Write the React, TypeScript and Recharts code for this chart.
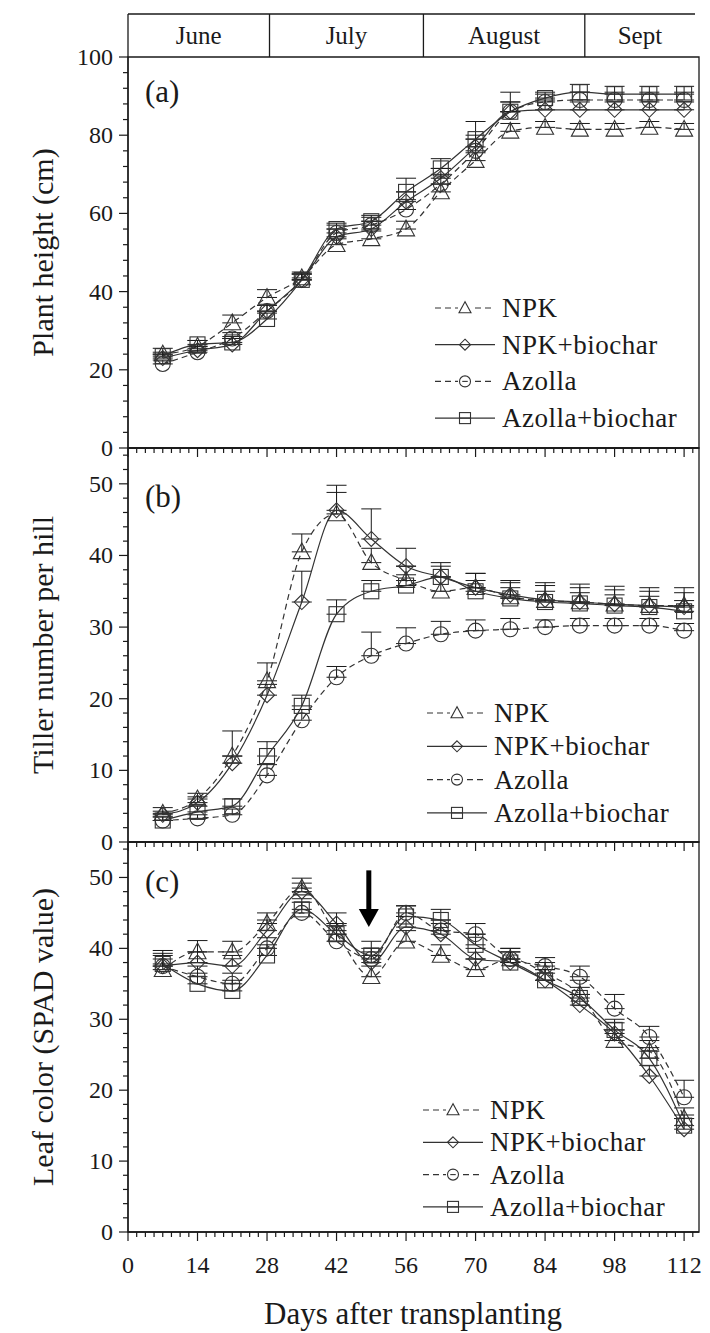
import React from 'react';
import {
  LineChart,
  Line,
  XAxis,
  YAxis,
  ErrorBar,
  ReferenceArea,
  ReferenceLine,
  Legend,
} from 'recharts';

const FONT = '"Liberation Serif", "Times New Roman", Times, serif';
const INK = '#1a1a1a';
const LINE = '#333333';

// sampling days (days after transplanting)
const days = [7, 14, 21, 28, 35, 42, 49, 56, 63, 70, 77, 84, 91, 98, 105, 112];

const seriesNames = ['NPK', 'NPK+biochar', 'Azolla', 'Azolla+biochar'];

// (a) plant height, cm
const heightNPK = [24, 26, 32, 38.5, 43.5, 52, 53.5, 56, 65.5, 73.5, 81, 82, 81.5, 81.5, 82, 81.5];
const heightNPKBiochar = [23, 25, 26.5, 35, 43, 54, 56, 63, 69, 77, 86, 86.5, 86.5, 86.5, 86.5, 86.5];
const heightAzolla = [21.5, 24.5, 28, 35, 43, 55, 57, 61, 67.5, 76, 86, 88.5, 89, 89, 89, 89];
const heightAzollaBiochar = [23.5, 26.5, 27, 33, 43, 56, 58, 65.5, 71.5, 79, 86, 89.5, 91, 90.5, 90.5, 90.5];
const heightNPKErr = [1.5, 1.5, 2, 2, 1.5, 1.5, 2, 2, 2, 2, 2, 1.5, 1.5, 1.5, 1.5, 1.5];
const heightNPKBiocharErr = [1, 1, 1.5, 1.5, 1.5, 2, 2, 2.5, 2.5, 3, 5, 2.5, 2, 2, 2, 2];
const heightAzollaErr = [1, 1, 1.5, 1.5, 1.5, 2, 2, 2.5, 2.5, 3, 2.5, 2, 2, 2, 2, 2];
const heightAzollaBiocharErr = [1, 1, 1.5, 1.5, 1.5, 1.5, 1.5, 3.5, 2.5, 4.5, 2.5, 1.5, 2, 2, 2, 2];

// (b) tiller number per hill
const tillerNPK = [4, 6, 12, 22.5, 40.5, 45.8, 39, 36.5, 35, 35.5, 34.2, 33.7, 33.5, 33.2, 33, 33];
const tillerNPKBiochar = [3.8, 5.5, 11, 20.5, 33.5, 46.3, 42.3, 38.5, 37, 35.5, 34.5, 33.8, 33.5, 33.2, 33, 32.8];
const tillerAzolla = [3, 3.3, 3.8, 9.3, 17, 23, 26, 27.7, 29, 29.5, 29.7, 30, 30.2, 30.2, 30.2, 29.5];
const tillerAzollaBiochar = [3, 4.2, 5, 12, 19, 31.8, 35, 35.8, 37, 35, 34, 33.5, 33.3, 33, 32.8, 32.2];
const tillerNPKErr = [0.8, 0.8, 3.5, 2.5, 2.5, 4, 2, 2, 2, 2, 2, 2.5, 2.5, 2.5, 2.5, 2.5];
const tillerNPKBiocharErr = [0.5, 0.8, 1, 1.5, 4.3, 2.5, 4.2, 2.5, 2, 2, 2, 2, 2, 2, 2, 2];
const tillerAzollaErr = [0.5, 0.5, 0.8, 1.5, 1.5, 1.5, 3.3, 2.2, 1.8, 1.5, 1.5, 1, 1, 1, 1, 1];
const tillerAzollaBiocharErr = [0.5, 0.8, 1, 2, 1.5, 2, 1.5, 1.5, 1.5, 1.5, 1.5, 1.5, 1.5, 1.5, 1.5, 1.5];

// (c) leaf colour, SPAD value
const spadNPK = [37, 39.5, 39.5, 43.5, 48.5, 42, 36, 41, 39, 37, 38.5, 36.5, 33.5, 27, 25.5, 16];
const spadNPKBiochar = [37.5, 38, 37.5, 42.5, 48, 43.5, 38, 43, 42, 38.5, 38, 35.5, 32, 28, 22, 14.5];
const spadAzolla = [37.5, 36, 35, 40, 45, 41, 38.5, 45, 42.5, 42, 38.5, 37.5, 36, 31.5, 27.5, 19];
const spadAzollaBiochar = [37.8, 35, 34, 39, 45.5, 42, 39, 44.5, 44, 40.5, 38, 35.5, 33, 28.5, 24.5, 15];
const spadNPKErr = [1.5, 1.6, 1.5, 1.5, 1.4, 1.2, 1.5, 1.5, 1.5, 1.5, 1.5, 1.5, 2, 1.5, 1.5, 1.5];
const spadNPKBiocharErr = [2.2, 1.5, 1.5, 1.5, 1.2, 1.5, 1.5, 1.5, 1.5, 1.5, 1.5, 1.5, 1.5, 1.5, 1.5, 1.5];
const spadAzollaErr = [1.5, 1.5, 1.5, 1.5, 1.5, 1.5, 1.5, 1, 1.5, 1.5, 1.5, 1.2, 1.5, 2, 1.5, 2.4];
const spadAzollaBiocharErr = [1.5, 1.5, 1.5, 1.5, 1.5, 1.5, 2, 1.5, 1.5, 1.5, 1.5, 1.5, 1.5, 1.5, 1.5, 1.5];

// month band above panel (a)
const monthNames = ['June', 'July', 'August', 'Sept'];
const monthBounds = [0, 28.5, 59.5, 92, 114.2];

// axis tick labels
const dayTickLabels = [0, 14, 28, 42, 56, 70, 84, 98, 112];
const heightTickLabels = [0, 20, 40, 60, 80, 100];
const countTickLabels = [0, 10, 20, 30, 40, 50];

// topdressing arrow on panel (c)
const arrowDay = 48.5;
const arrowFrom = 51;
const arrowTo = 43;

const DAY_DOMAIN: [number, number] = [0, 115];
const dayMinorTicks = Array.from({ length: 66 }, (_, i) => i * 1.75);
const heightMinorTicks = Array.from({ length: 26 }, (_, i) => i * 4);
const countMinorTicks = Array.from({ length: 28 }, (_, i) => i * 2);

type Kind = 'triangle' | 'diamond' | 'circle' | 'square';
const seriesKeys = ['npk', 'npkb', 'az', 'azb'];
const seriesKinds: Kind[] = ['triangle', 'diamond', 'circle', 'square'];
const seriesDash: (string | undefined)[] = ['6 4', undefined, '6 4', undefined];

function buildRows(values: number[][], errors: number[][]) {
  return days.map((day, i) => {
    const row: Record<string, any> = { day };
    seriesKeys.forEach((k, s) => {
      row[k] = values[s][i];
      row[k + 'Err'] = [0, errors[s][i]];
    });
    return row;
  });
}

const heightRows = buildRows(
  [heightNPK, heightNPKBiochar, heightAzolla, heightAzollaBiochar],
  [heightNPKErr, heightNPKBiocharErr, heightAzollaErr, heightAzollaBiocharErr]
);
const tillerRows = buildRows(
  [tillerNPK, tillerNPKBiochar, tillerAzolla, tillerAzollaBiochar],
  [tillerNPKErr, tillerNPKBiocharErr, tillerAzollaErr, tillerAzollaBiocharErr]
);
const spadRows = buildRows(
  [spadNPK, spadNPKBiochar, spadAzolla, spadAzollaBiochar],
  [spadNPKErr, spadNPKBiocharErr, spadAzollaErr, spadAzollaBiocharErr]
);

function MarkerShape({ cx, cy, kind, s, bar }: { cx: number; cy: number; kind: Kind; s: number; bar?: boolean }) {
  const st = { fill: 'none', stroke: LINE, strokeWidth: 1.1 };
  if (kind === 'triangle') {
    return (
      <polygon
        points={`${cx},${cy - s * 1.05} ${cx - s},${cy + s * 0.8} ${cx + s},${cy + s * 0.8}`}
        {...st}
      />
    );
  }
  if (kind === 'diamond') {
    return <polygon points={`${cx},${cy - s} ${cx + s},${cy} ${cx},${cy + s} ${cx - s},${cy}`} {...st} />;
  }
  if (kind === 'circle') {
    return (
      <g>
        <circle cx={cx} cy={cy} r={s} {...st} />
        {bar && <line x1={cx - s * 0.5} x2={cx + s * 0.5} y1={cy} y2={cy} stroke={LINE} strokeWidth={1.1} />}
      </g>
    );
  }
  return (
    <g>
      <rect x={cx - s} y={cy - s} width={2 * s} height={2 * s} {...st} />
      {bar && <line x1={cx - s} x2={cx + s} y1={cy} y2={cy} stroke={LINE} strokeWidth={1.1} />}
    </g>
  );
}

const dataSize: Record<Kind, number> = { triangle: 8.5, diamond: 7.5, circle: 7.5, square: 7.5 };

function isMultiple(v: number, step: number) {
  return Math.abs(v / step - Math.round(v / step)) < 1e-6;
}

const makeXTick = (withLabels: boolean) => (props: any) => {
  const { x, y, payload } = props;
  const v = Number(payload?.value);
  const major = isMultiple(v, 14);
  const label = withLabels && dayTickLabels.some((t) => Math.abs(t - v) < 1e-6);
  return (
    <g>
      <line x1={x} x2={x} y1={y} y2={y + (major ? 9 : 5)} stroke={INK} strokeWidth={1.2} />
      {label ? (
        <text x={x} y={y + 41} textAnchor="middle" fontFamily={FONT} fontSize={24} fill={INK}>
          {String(v)}
        </text>
      ) : null}
    </g>
  );
};

const makeYTick = (labels: number[]) => (props: any) => {
  const { x, y, payload } = props;
  const v = Number(payload?.value);
  const major = labels.includes(v);
  return (
    <g>
      <line x1={x - (major ? 9 : 5)} x2={x} y1={y} y2={y} stroke={INK} strokeWidth={1.2} />
      {major && (
        <text x={x - 15} y={y + 8} textAnchor="end" fontFamily={FONT} fontSize={24} fill={INK}>
          {v}
        </text>
      )}
    </g>
  );
};

function LegendBox({ gap }: { gap: number }) {
  return (
    <svg width={260} height={gap * 3 + 40} style={{ overflow: 'visible' }}>
      {seriesNames.map((name, i) => {
        const cy = 18 + i * gap;
        return (
          <g key={name}>
            <line
              x1={0}
              x2={60}
              y1={cy}
              y2={cy}
              stroke={LINE}
              strokeWidth={1.2}
              strokeDasharray={seriesDash[i]}
            />
            {seriesDash[i] && <rect x={23} y={cy - 8} width={14} height={16} fill="#fff" />}
            <MarkerShape cx={30} cy={cy} kind={seriesKinds[i]} s={seriesKinds[i] === 'triangle' ? 6 : 5.5} bar />
            <text x={67} y={cy + 9} fontFamily={FONT} fontSize={27} letterSpacing={0.5} fill={INK}>
              {name}
            </text>
          </g>
        );
      })}
    </svg>
  );
}

const ArrowShape = (p: any) => {
  const { x1, y1, x2, y2 } = p;
  const x = (x1 + x2) / 2;
  const top = Math.min(y1, y2);
  const tip = Math.max(y1, y2);
  const head = 18;
  return (
    <g>
      <line x1={x} x2={x} y1={top} y2={tip - head + 1} stroke="#000" strokeWidth={5} />
      <polygon points={`${x - 10},${tip - head} ${x + 10},${tip - head} ${x},${tip}`} fill="#000" />
    </g>
  );
};

type PanelProps = {
  top: number;
  bottom: number;
  rows: Record<string, any>[];
  yMax: number;
  yMinor: number[];
  yLabels: number[];
  yTitle: string;
  tag: string;
  tagY: number;
  legendLeft: number;
  legendTop: number;
  legendGap: number;
  showDays?: boolean;
  arrow?: boolean;
  bandTop?: number;
};

function Panel(props: PanelProps) {
  const {
    top, bottom, rows, yMax, yMinor, yLabels, yTitle, tag, tagY,
    legendLeft, legendTop, legendGap, showDays, arrow, bandTop,
  } = props;
  const H = 1333;
  const midY = (top + bottom) / 2;
  return (
    <div style={{ position: 'absolute', left: 0, top: 0 }}>
      <LineChart width={710} height={H} data={rows} margin={{ top, right: 11, bottom: H - bottom - 1, left: 0 }}>
        <XAxis
          dataKey="day"
          type="number"
          domain={DAY_DOMAIN}
          ticks={dayMinorTicks}
          interval={0}
          height={1}
          tickSize={0}
          tickMargin={0}
          tickLine={false}
          axisLine={{ stroke: INK, strokeWidth: 1.3 }}
          tick={makeXTick(!!showDays)}
        />
        <YAxis
          type="number"
          domain={[0, yMax]}
          ticks={yMinor}
          interval={0}
          width={128}
          tickSize={0}
          tickMargin={0}
          tickLine={false}
          axisLine={{ stroke: INK, strokeWidth: 1.3 }}
          tick={makeYTick(yLabels)}
          label={{
            content: () => (
              <g>
                <text
                  x={42}
                  y={midY}
                  transform={`rotate(-90, 42, ${midY})`}
                  textAnchor="middle"
                  dominantBaseline="central"
                  fontFamily={FONT}
                  fontSize={30}
                  fill={INK}
                >
                  {yTitle}
                </text>
                {showDays && (
                  <text x={413} y={bottom + 92} textAnchor="middle" fontFamily={FONT} fontSize={31} fill={INK}>
                    Days after transplanting
                  </text>
                )}
              </g>
            ),
          }}
        />
        <ReferenceArea
          x1={DAY_DOMAIN[0]}
          x2={DAY_DOMAIN[1]}
          y1={0}
          y2={yMax}
          fill="none"
          stroke={INK}
          strokeWidth={1.3}
          label={{
            content: (lp: any) => (
              <text x={(lp.viewBox?.x ?? 128) + 17} y={tagY + 10} fontFamily={FONT} fontSize={31} fill={INK}>
                {tag}
              </text>
            ),
          }}
        />
        {bandTop !== undefined && (
          <ReferenceLine
            segment={[
              { x: monthBounds[0], y: bandTop },
              { x: monthBounds[monthBounds.length - 1], y: bandTop },
            ]}
            ifOverflow="visible"
            stroke={INK}
            strokeWidth={1.3}
          />
        )}
        {bandTop !== undefined &&
          monthBounds.slice(0, -1).map((b) => (
            <ReferenceLine
              key={`mb-${b}`}
              segment={[
                { x: b, y: yMax },
                { x: b, y: bandTop },
              ]}
              ifOverflow="visible"
              stroke={INK}
              strokeWidth={1.3}
            />
          ))}
        {bandTop !== undefined &&
          monthNames.map((m, i) => (
            <ReferenceArea
              key={m}
              x1={monthBounds[i]}
              x2={monthBounds[i + 1]}
              y1={yMax}
              y2={bandTop}
              ifOverflow="visible"
              fill="none"
              stroke="none"
              label={{ value: m, position: 'center', fontFamily: FONT, fontSize: 25, fill: INK }}
            />
          ))}
        {arrow && (
          <ReferenceLine
            segment={[
              { x: arrowDay, y: arrowFrom },
              { x: arrowDay, y: arrowTo },
            ]}
            shape={ArrowShape}
          />
        )}
        {seriesKeys.map((k, s) => (
          <Line
            key={k}
            type="monotone"
            dataKey={k}
            name={seriesNames[s]}
            stroke={LINE}
            strokeWidth={1.2}
            strokeDasharray={seriesDash[s]}
            isAnimationActive={false}
            activeDot={false}
            dot={(dp: any) => (
              <MarkerShape
                key={`${k}-${dp.index}`}
                cx={dp.cx}
                cy={dp.cy}
                kind={seriesKinds[s]}
                s={dataSize[seriesKinds[s]]}
              />
            )}
          >
            <ErrorBar dataKey={k + 'Err'} direction="y" width={10} stroke={INK} strokeWidth={1} />
          </Line>
        ))}
        <Legend
          layout="vertical"
          align="center"
          verticalAlign="middle"
          wrapperStyle={{ left: legendLeft, top: legendTop, width: 260, height: legendGap * 3 + 40 }}
          content={() => <LegendBox gap={legendGap} />}
        />
      </LineChart>
    </div>
  );
}

export default function App() {
  return (
    <div
      style={{
        position: 'absolute',
        left: 0,
        top: 0,
        width: 710,
        height: 1333,
        overflow: 'hidden',
        background: '#fff',
      }}
    >
      <Panel
        top={57}
        bottom={448}
        rows={heightRows}
        yMax={100}
        yMinor={heightMinorTicks}
        yLabels={heightTickLabels}
        yTitle="Plant height (cm)"
        tag="(a)"
        tagY={92}
        legendLeft={435}
        legendTop={290}
        legendGap={36.7}
        bandTop={111}
      />
      <Panel
        top={448}
        bottom={842}
        rows={tillerRows}
        yMax={55}
        yMinor={countMinorTicks}
        yLabels={countTickLabels}
        yTitle="Tiller  number per hill"
        tag="(b)"
        tagY={497}
        legendLeft={427}
        legendTop={695}
        legendGap={33.3}
      />
      <Panel
        top={842}
        bottom={1232}
        rows={spadRows}
        yMax={55}
        yMinor={countMinorTicks}
        yLabels={countTickLabels}
        yTitle="Leaf color (SPAD value)"
        tag="(c)"
        tagY={882}
        legendLeft={423}
        legendTop={1092}
        legendGap={32.3}
        showDays
        arrow
      />
    </div>
  );
}
